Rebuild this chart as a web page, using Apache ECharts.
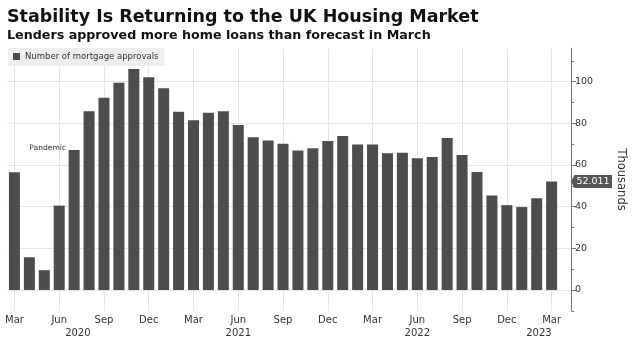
<!DOCTYPE html>
<html><head><meta charset="utf-8">
<script src="https://cdn.jsdelivr.net/npm/echarts@6/dist/echarts.min.js"></script>
<style>html,body{margin:0;padding:0;background:#fff}#c{width:635px;height:340px}</style>
</head><body><div id="c"></div>
<script>
const categories = ['2020-03','2020-04','2020-05','2020-06','2020-07','2020-08','2020-09','2020-10','2020-11','2020-12',
  '2021-01','2021-02','2021-03','2021-04','2021-05','2021-06','2021-07','2021-08','2021-09','2021-10','2021-11','2021-12',
  '2022-01','2022-02','2022-03','2022-04','2022-05','2022-06','2022-07','2022-08','2022-09','2022-10','2022-11','2022-12',
  '2023-01','2023-02','2023-03'];
const approvals = [56.5,15.7,9.5,40.5,67.2,85.8,92.3,99.5,106.1,102.1,
  96.8,85.5,81.5,85.1,85.8,79.2,73.3,71.7,70.2,66.9,68.0,71.5,
  73.9,69.8,69.8,65.6,65.9,63.2,63.8,73.0,64.8,56.6,45.3,40.7,
  39.8,44.0,52.011];
const monthNames = ['Jan','Feb','Mar','Apr','May','Jun','Jul','Aug','Sep','Oct','Nov','Dec'];
const tickMonths = [3,6,9,12];
const yTicks = [0,20,40,60,80,100];
const yMinorTicks = [-10,10,30,50,70,90,110];
const latestLabel = '52.011';
const pandemicLabel = 'Pandemic';
const pandemicMonth = '2020-07';

const X_MIN = -0.5, X_MAX = 37.3;
const xTickIdx = categories.map((c,i)=>tickMonths.includes(+c.slice(5)) ? i : null).filter(v=>v!==null);
const yearList = [...new Set(categories.map(c=>c.slice(0,4)))];
const yearPos = yearList.map(y=>{
  const decPrev = categories.indexOf((+y-1)+'-12');
  const decCur = categories.indexOf(y+'-12');
  const s = decPrev < 0 ? X_MIN : decPrev;
  const e = decCur < 0 ? X_MAX : decCur;
  return (s+e)/2;
});
const FONT = 'DejaVu Sans';
const GRID = {left:7,right:63.3,top:48.3,bottom:29.2,containLabel:false};
const chart = echarts.init(document.getElementById('c'), null, {renderer:'canvas'});
chart.setOption({
  animation:false,
  backgroundColor:'#fff',
  title:[
    {text:'Stability Is Returning to the UK Housing Market', left:7, top:8, padding:0,
     textStyle:{fontFamily:FONT,fontSize:17.5,fontWeight:'bold',color:'#111'}},
    {text:'Lenders approved more home loans than forecast in March', left:7, top:29, padding:0,
     textStyle:{fontFamily:FONT,fontSize:12.7,fontWeight:'bold',color:'#111'}}
  ],
  legend:{show:true,left:8,top:48,padding:[4,6,5,5],backgroundColor:'#eeeeee',icon:'rect',
    itemWidth:7,itemHeight:7,textStyle:{fontFamily:FONT,fontSize:8.5,color:'#333'},
    data:['Number of mortgage approvals']},
  grid:[Object.assign({},GRID), Object.assign({},GRID)],
  xAxis:[
    {type:'value',gridIndex:0,min:X_MIN,max:X_MAX,position:'bottom',
     axisLine:{show:false,onZero:false},
     axisTick:{show:false,customValues:xTickIdx},
     axisLabel:{customValues:xTickIdx,margin:5,fontFamily:FONT,fontSize:10,color:'#333',
       formatter:v=>monthNames[+categories[Math.round(v)].slice(5)-1]},
     splitLine:{show:true,lineStyle:{color:'#e6e6e6',width:1}}},
    {type:'value',gridIndex:0,min:X_MIN,max:X_MAX,position:'bottom',offset:13,
     axisLine:{show:false,onZero:false},axisTick:{show:false,customValues:yearPos},splitLine:{show:false},
     axisLabel:{customValues:yearPos,margin:5,fontFamily:FONT,fontSize:10,color:'#333',
       formatter:v=>{const i=yearPos.findIndex(p=>Math.abs(p-v)<1e-6);return i>=0?yearList[i]:'';}}},
    {type:'value',gridIndex:1,min:X_MIN,max:X_MAX,show:false,axisLine:{onZero:false}}
  ],
  yAxis:[
    {type:'value',gridIndex:0,position:'right',min:-10,max:116,
     axisLine:{show:true,onZero:false,lineStyle:{color:'#777',width:1}},
     axisTick:{show:true,customValues:yTicks,length:5,lineStyle:{color:'#777'}},
     axisLabel:{customValues:yTicks,margin:4,fontFamily:FONT,fontSize:9.5,color:'#333'},
     splitLine:{show:true,lineStyle:{color:'#e6e6e6',width:1}},
     name:'Thousands',nameLocation:'middle',nameRotate:-90,nameGap:44,
     nameTextStyle:{fontFamily:FONT,fontSize:11.5,color:'#333'}},
    {type:'value',gridIndex:1,position:'right',min:-10,max:116,
     axisLine:{show:false,onZero:false},
     axisTick:{show:true,customValues:yMinorTicks,length:2.5,lineStyle:{color:'#777'}},
     axisLabel:{show:false},splitLine:{show:false}}
  ],
  series:[{
    name:'Number of mortgage approvals',type:'bar',barWidth:11,xAxisIndex:0,yAxisIndex:0,
    itemStyle:{color:'#4d4d4d'},
    data:approvals.map((v,i)=>[i,v]),
    markPoint:{silent:true,animation:false,data:[
      {coord:[X_MAX,approvals[approvals.length-1]],symbol:'path://M0,6.5 L3.5,0 L41,0 L41,13 L3.5,13 Z',
       symbolSize:[41,13],symbolKeepAspect:false,symbolOffset:[20.5,0],itemStyle:{color:'#555'},
       label:{show:true,position:'inside',offset:[1.5,0],formatter:latestLabel,color:'#fff',fontFamily:FONT,fontSize:9.5}},
      {coord:[categories.indexOf(pandemicMonth),approvals[categories.indexOf(pandemicMonth)]],symbol:'circle',symbolSize:0,
       itemStyle:{color:'transparent'},
       label:{show:true,position:'left',distance:8,offset:[0,-2],formatter:pandemicLabel,color:'#333',fontFamily:FONT,fontSize:7.6}}
    ]}
  }]
});
</script></body></html>
